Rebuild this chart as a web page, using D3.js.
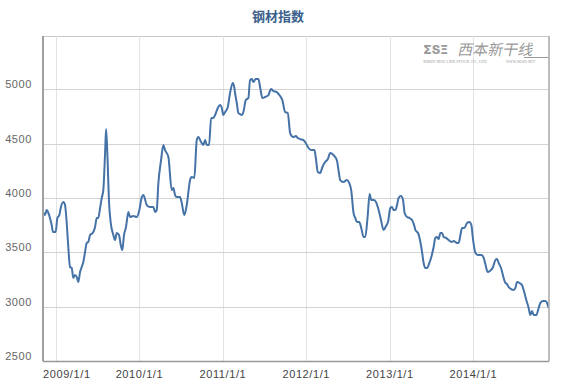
<!DOCTYPE html>
<html>
<head>
<meta charset="utf-8">
<script src="https://cdn.jsdelivr.net/npm/d3@7/dist/d3.min.js"></script>
<style>
  html, body { margin: 0; padding: 0; background: #fff; }
  #chart { width: 581px; height: 389px; }
  .tick-label { font-family: "Liberation Sans", Arial, sans-serif; font-size: 11px; letter-spacing: 0.6px; }
</style>
</head>
<body>
<div id="chart"></div>
<script>
// ---- Data (dates as decimal years, weekly-ish index values) ----
var years = [
  2008.844, 2008.868, 2008.888, 2008.904, 2008.928, 2008.948, 2008.964, 2008.996,
  2009.016, 2009.040, 2009.056, 2009.088, 2009.108, 2009.128, 2009.147, 2009.168,
  2009.188, 2009.207, 2009.228, 2009.248, 2009.267, 2009.288, 2009.308, 2009.327,
  2009.348, 2009.368, 2009.387, 2009.408, 2009.440, 2009.468, 2009.488, 2009.507,
  2009.528, 2009.548, 2009.567, 2009.588, 2009.600, 2009.615, 2009.636, 2009.656,
  2009.687, 2009.707, 2009.728, 2009.755, 2009.776, 2009.795, 2009.815, 2009.839,
  2009.867, 2009.887, 2009.927, 2009.968, 2009.999, 2010.028, 2010.047, 2010.088,
  2010.127, 2010.167, 2010.187, 2010.207, 2010.227, 2010.259, 2010.287, 2010.307,
  2010.347, 2010.387, 2010.407, 2010.427, 2010.447, 2010.487, 2010.507, 2010.538,
  2010.567, 2010.607, 2010.627, 2010.658, 2010.687, 2010.706, 2010.739, 2010.766,
  2010.787, 2010.807, 2010.835, 2010.859, 2010.886, 2010.907, 2010.939, 2010.967,
  2010.987, 2011.006, 2011.027, 2011.059, 2011.086, 2011.119, 2011.138, 2011.146,
  2011.167, 2011.186, 2011.206, 2011.227, 2011.246, 2011.275, 2011.306, 2011.326,
  2011.347, 2011.366, 2011.394, 2011.426, 2011.446, 2011.474, 2011.506, 2011.546,
  2011.578, 2011.606, 2011.646, 2011.686, 2011.713, 2011.746, 2011.778, 2011.806,
  2011.826, 2011.845, 2011.874, 2011.898, 2011.926, 2011.966, 2011.994, 2012.026,
  2012.058, 2012.097, 2012.114, 2012.138, 2012.166, 2012.193, 2012.225, 2012.258,
  2012.285, 2012.325, 2012.365, 2012.385, 2012.405, 2012.445, 2012.486, 2012.513,
  2012.537, 2012.565, 2012.585, 2012.606, 2012.633, 2012.657, 2012.685, 2012.705,
  2012.733, 2012.757, 2012.777, 2012.805, 2012.833, 2012.865, 2012.893, 2012.924,
  2012.953, 2012.977, 2013.005, 2013.025, 2013.044, 2013.065, 2013.085, 2013.104,
  2013.133, 2013.157, 2013.176, 2013.205, 2013.236, 2013.265, 2013.296, 2013.305,
  2013.337, 2013.365, 2013.385, 2013.404, 2013.425, 2013.445, 2013.473, 2013.496,
  2013.524, 2013.544, 2013.565, 2013.584, 2013.604, 2013.625, 2013.644, 2013.673,
  2013.704, 2013.737, 2013.764, 2013.785, 2013.805, 2013.824, 2013.845, 2013.865,
  2013.892, 2013.925, 2013.952, 2013.976, 2013.997, 2014.025, 2014.057, 2014.097,
  2014.124, 2014.144, 2014.172, 2014.198, 2014.236, 2014.264, 2014.284, 2014.303,
  2014.332, 2014.363, 2014.384, 2014.404, 2014.423, 2014.452, 2014.483, 2014.504,
  2014.524, 2014.555, 2014.583, 2014.603, 2014.635, 2014.663, 2014.683, 2014.703,
  2014.723, 2014.755, 2014.783, 2014.803, 2014.835, 2014.863, 2014.884, 2014.903
];

var values = [
  3871, 3843, 3889, 3871, 3816, 3751, 3687, 3687,
  3816, 3843, 3908, 3963, 3935, 3770, 3549, 3365,
  3356, 3264, 3291, 3273, 3227, 3319, 3365, 3411,
  3503, 3586, 3595, 3659, 3678, 3733, 3816, 3816,
  3908, 4000, 4073, 4414, 4634, 4414, 3954, 3770,
  3659, 3613, 3678, 3659, 3567, 3521, 3659, 3733,
  3871, 3825, 3834, 3825, 3889, 4009, 4027, 3935,
  3917, 3917, 3871, 3889, 4138, 4349, 4487, 4441,
  4377, 4073, 4092, 4027, 4009, 4009, 3954, 3843,
  3935, 4165, 4193, 4184, 4533, 4561, 4515, 4487,
  4533, 4487, 4487, 4736, 4736, 4763, 4828, 4855,
  4828, 4763, 4791, 4837, 4966, 5058, 5012, 4966,
  4874, 4782, 4772, 4763, 4791, 4901, 4920, 5085,
  5094, 5067, 5094, 5094, 5021, 4920, 4929, 4947,
  5002, 4984, 4975, 4938, 4901, 4791, 4782, 4598,
  4570, 4561, 4570, 4552, 4542, 4533, 4506, 4460,
  4441, 4441, 4368, 4239, 4230, 4285, 4331, 4358,
  4414, 4395, 4349, 4257, 4165, 4147, 4165, 4138,
  4073, 3862, 3816, 3779, 3779, 3724, 3641, 3641,
  3825, 4036, 3981, 3981, 3963, 3889, 3797, 3705,
  3742, 3779, 3908, 3917, 3889, 3889, 3935, 4000,
  4018, 3981, 3862, 3825, 3816, 3797, 3733, 3705,
  3678, 3595, 3503, 3402, 3356, 3356, 3402, 3457,
  3549, 3632, 3641, 3622, 3678, 3678, 3641, 3632,
  3613, 3595, 3604, 3595, 3586, 3586, 3659, 3724,
  3724, 3770, 3779, 3751, 3613, 3494, 3475, 3475,
  3448, 3392, 3319, 3328, 3365, 3429, 3438, 3402,
  3356, 3264, 3218, 3208, 3181, 3162, 3153, 3172,
  3227, 3218, 3199, 3153, 3061, 2988, 2923, 2960,
  2923, 2923, 2988, 3034, 3052, 3052, 3034, 2988
];

var yTicks = [2500, 3000, 3500, 4000, 4500, 5000];
var xTickYears = [2009, 2010, 2011, 2012, 2013, 2014];
var xStart = '2008-11-05', xEnd = '2014-11-28';
var title = '钢材指数';

(function () {
  var W = 581, H = 389;
  var plot = { left: 43, right: 549, top: 36, bottom: 361 };

  // decimal year -> Date
  function yearToDate(y) {
    var yr = Math.floor(y);
    var a = new Date(yr, 0, 1), b = new Date(yr + 1, 0, 1);
    return new Date(+a + (y - yr) * (b - a));
  }
  var parse = d3.timeParse('%Y-%m-%d');

  var data = years.map(function (y, i) { return { date: yearToDate(y), value: values[i] }; });

  var x = d3.scaleTime()
    .domain([parse(xStart), parse(xEnd)])
    .range([plot.left, plot.right]);

  var y = d3.scaleLinear()
    .domain([2500, 5000])
    .range([plot.bottom, 89.3]);

  var svg = d3.select('#chart').append('svg')
    .attr('width', W).attr('height', H);

  svg.append('rect').attr('width', W).attr('height', H).attr('fill', '#fff');

  // Title
  svg.append('text')
    .attr('x', 278).attr('y', 21)
    .attr('text-anchor', 'middle')
    .style('font-family', '"Noto Sans CJK SC", sans-serif')
    .style('font-size', '13px')
    .style('font-weight', 'bold')
    .style('fill', '#3b5f8c')
    .text(title);

  // Plot frame
  svg.append('rect')
    .attr('x', plot.left).attr('y', plot.top + 0.5)
    .attr('width', plot.right - plot.left).attr('height', plot.bottom - plot.top)
    .attr('fill', 'none').attr('stroke', '#c8c8c8').attr('stroke-width', 1);

  // Vertical grid
  var xTickDates = xTickYears.map(function (yr) { return new Date(yr, 0, 1); });
  svg.append('g').selectAll('line')
    .data(xTickDates).enter().append('line')
    .attr('x1', function (d) { return Math.round(x(d)) + 0.5; })
    .attr('x2', function (d) { return Math.round(x(d)) + 0.5; })
    .attr('y1', plot.top).attr('y2', plot.bottom)
    .attr('stroke', '#e3e3e3');

  // Horizontal grid
  svg.append('g').selectAll('line')
    .data(yTicks).enter().append('line')
    .attr('x1', plot.left).attr('x2', plot.right)
    .attr('y1', function (d) { return Math.round(y(d)) + 0.5; })
    .attr('y2', function (d) { return Math.round(y(d)) + 0.5; })
    .attr('stroke', '#d3d3d3');

  // Watermark (logo)
  var wm = svg.append('g').attr('fill', '#9a9a9a');
  wm.append('text')
    .attr('x', 423).attr('y', 54)
    .style('font-family', '"DejaVu Sans", sans-serif')
    .style('font-size', '13px').style('font-weight', 'bold')
    .style('letter-spacing', '-0.5px')
    .text('ΣՏΞ');
  wm.append('text')
    .attr('x', 458).attr('y', 55)
    .style('font-family', '"Noto Sans CJK SC", sans-serif')
    .style('font-size', '15px')
    .attr('transform', 'skewX(-12) translate(11,0)')
    .text('西本新干线');
  wm.append('line')
    .attr('x1', 524).attr('x2', 549).attr('y1', 57.5).attr('y2', 57.5)
    .attr('stroke', '#9a9a9a');
  wm.append('text')
    .attr('x', 423).attr('y', 63)
    .style('font-family', '"Liberation Serif", serif')
    .style('font-size', '4px')
    .text('XIBEN NEW LINE STOCK CO., LTD.');
  wm.append('text')
    .attr('x', 506).attr('y', 63)
    .style('font-family', '"Liberation Serif", serif')
    .style('font-size', '4px').style('font-style', 'italic')
    .text('WWW.96369.NET');

  // Line
  svg.append('clipPath').attr('id', 'clip')
    .append('rect')
    .attr('x', plot.left).attr('y', plot.top)
    .attr('width', plot.right - plot.left).attr('height', plot.bottom - plot.top);

  var line = d3.line()
    .x(function (d) { return x(d.date); })
    .y(function (d) { return y(d.value); })
    .curve(d3.curveMonotoneX);

  svg.append('path')
    .datum(data)
    .attr('clip-path', 'url(#clip)')
    .attr('d', line)
    .attr('fill', 'none')
    .attr('stroke', '#4572a7')
    .attr('stroke-width', 2)
    .attr('stroke-linejoin', 'round');

  // Axis lines
  svg.append('line')
    .attr('x1', plot.left).attr('x2', plot.left)
    .attr('y1', plot.top).attr('y2', plot.bottom)
    .attr('stroke', '#a0a0a0').attr('stroke-width', 2);
  svg.append('line')
    .attr('x1', plot.left).attr('x2', plot.right)
    .attr('y1', plot.bottom + 0.5).attr('y2', plot.bottom + 0.5)
    .attr('stroke', '#999').attr('stroke-width', 1.5);
  svg.append('line')
    .attr('x1', plot.right).attr('x2', plot.right)
    .attr('y1', plot.top).attr('y2', plot.bottom)
    .attr('stroke', '#b0b0b0').attr('stroke-width', 1.5);

  // Y labels (sit a little above their grid line)
  svg.append('g').selectAll('text')
    .data(yTicks).enter().append('text')
    .attr('class', 'tick-label')
    .attr('x', 32)
    .attr('y', function (d) { return y(d) - 1; })
    .attr('text-anchor', 'end')
    .style('fill', '#666')
    .text(function (d) { return d; });

  // X labels (first one justified to the plot edge, as the original does)
  var fmt = d3.timeFormat('%Y/%-m/%-d');
  svg.append('g').selectAll('text')
    .data(xTickDates).enter().append('text')
    .attr('class', 'tick-label')
    .attr('x', function (d, i) { return i === 0 ? plot.left : x(d); })
    .attr('y', 378)
    .attr('text-anchor', function (d, i) { return i === 0 ? 'start' : 'middle'; })
    .style('fill', '#444')
    .text(fmt);
})();
</script>
</body>
</html>
